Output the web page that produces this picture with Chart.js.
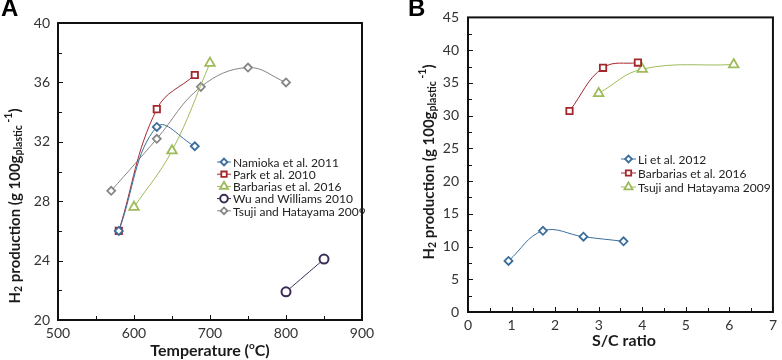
<!DOCTYPE html>
<html><head><meta charset="utf-8">
<script src="https://cdn.jsdelivr.net/npm/chart.js@4"></script>
<style>
body{margin:0;background:#fff;}
#wrap{position:relative;width:782px;height:360px;overflow:hidden;}
.p{position:absolute;top:0;width:391px;height:360px;}
</style>
</head><body>
<div id="wrap">
<div class="p" style="left:0"><canvas id="ca"></canvas></div>
<div class="p" style="left:391px"><canvas id="cb"></canvas></div>
</div>
<script>
// ---------- Panel A data (Temperature, °C vs H2 production) ----------
const namiokaT = [580, 630, 680];
const namiokaH = [26.0, 33.0, 31.7];
const parkT = [580, 630, 680];
const parkH = [26.0, 34.2, 36.5];
const barbariasT = [600, 650, 700];
const barbariasH = [27.6, 31.4, 37.3];
const wuT = [800, 850];
const wuH = [21.9, 24.1];
const tsujiT = [570, 630, 688, 750, 800];
const tsujiH = [28.7, 32.2, 35.7, 37.0, 36.0];
const ticksAx = [500, 600, 700, 800, 900];
const ticksAy = [20, 24, 28, 32, 36, 40];

// ---------- Panel B data (S/C ratio vs H2 production) ----------
const liSC = [0.93, 1.72, 2.65, 3.57];
const liH = [7.8, 12.4, 11.5, 10.8];
const barbSC = [2.33, 3.1, 3.9];
const barbH = [30.7, 37.3, 38.1];
const tsujiSC = [3.0, 4.0, 6.1];
const tsujiBH = [33.4, 37.1, 37.8];
const ticksBx = [0, 1, 2, 3, 4, 5, 6, 7];
const ticksBy = [0, 5, 10, 15, 20, 25, 30, 35, 40, 45];

const FONT = "Lato, 'Open Sans', sans-serif";
const C_BLUE = '#3b6e9b', C_RED = '#a3282c', C_GREEN = '#9dbb5a', C_PURPLE = '#3a2c55', C_GRAY = '#858585';

const pts = (xs, ys) => xs.map((x, i) => ({x, y: ys[i]}));

function ds(label, xs, ys, color, style, radius, bw) {
  return {
    label, data: pts(xs, ys), borderColor: color, backgroundColor: '#fff',
    pointBackgroundColor: '#fff', pointBorderColor: color,
    pointStyle: style, pointRadius: radius, pointBorderWidth: bw || 1.8,
    borderWidth: 1, tension: 0.4, fill: false, pointHoverRadius: radius
  };
}

function drawRich(ctx, segs, cx, cy, rot) {
  ctx.save();
  ctx.translate(cx, cy);
  if (rot) ctx.rotate(rot);
  let total = 0;
  segs.forEach(s => { ctx.font = s.font; s.w = ctx.measureText(s.t).width; total += s.w; });
  let x = -total / 2;
  ctx.textBaseline = 'middle';
  ctx.textAlign = 'left';
  segs.forEach(s => { ctx.font = s.font; ctx.fillStyle = '#1a1a1a'; ctx.fillText(s.t, x, s.dy || 0); x += s.w; });
  ctx.restore();
}

const decor = {
  id: 'decor',
  afterDraw(chart, args, o) {
    const ctx = chart.ctx, a = chart.chartArea;
    const xs = chart.scales.x, ys = chart.scales.y;
    ctx.save();
    // inward ticks
    ctx.strokeStyle = '#111'; ctx.lineWidth = 1;
    for (let v = xs.min; v <= xs.max + 1e-9; v += o.xMinor) {
      const px = Math.round(xs.getPixelForValue(v)) + 0.5;
      const major = Math.abs(v / o.xMajor - Math.round(v / o.xMajor)) < 1e-6;
      const len = major ? 5 : 4;
      ctx.beginPath(); ctx.moveTo(px, a.bottom); ctx.lineTo(px, a.bottom - len); ctx.stroke();
    }
    for (let v = ys.min; v <= ys.max + 1e-9; v += o.yMinor) {
      const py = Math.round(ys.getPixelForValue(v)) + 0.5;
      const major = Math.abs(v / o.yMajor - Math.round(v / o.yMajor)) < 1e-6;
      const len = major ? 5 : 4;
      ctx.beginPath(); ctx.moveTo(a.left, py); ctx.lineTo(a.left + len, py); ctx.stroke();
    }
    // frame
    ctx.lineWidth = 2; ctx.strokeStyle = '#111';
    ctx.strokeRect(a.left, a.top, a.right - a.left, a.bottom - a.top);
    // panel letter
    ctx.font = "bold 24px 'Liberation Sans', Arial, sans-serif";
    ctx.fillStyle = '#000'; ctx.textBaseline = 'alphabetic'; ctx.textAlign = 'left';
    ctx.fillText(o.letter, o.letterX, o.letterY);
    // axis titles
    const bf = "bold 15px " + FONT, sf = "bold 10.5px " + FONT;
    drawRich(ctx, o.xTitle, o.xTitleX, o.xTitleY, 0);
    drawRich(ctx, [
      {t: 'H', font: bf}, {t: '2', font: sf, dy: 4}, {t: ' production (g 100g', font: bf},
      {t: 'plastic', font: sf, dy: 4}, {t: ' -1', font: sf, dy: -6}, {t: ')', font: bf}
    ], o.yTitleX, o.yTitleY, -Math.PI / 2);
    // legend
    ctx.font = "12px " + FONT;
    chart.data.datasets.forEach((d, i) => {
      const y = o.legY + i * o.legDy;
      const x0 = o.legX, x1 = o.legX + o.legW;
      ctx.strokeStyle = d.borderColor; ctx.lineWidth = 1;
      ctx.beginPath(); ctx.moveTo(x0, y); ctx.lineTo(x1, y); ctx.stroke();
      ctx.fillStyle = '#fff'; ctx.strokeStyle = d.pointBorderColor; ctx.lineWidth = d.pointBorderWidth;
      Chart.helpers.drawPoint(ctx, {pointStyle: d.pointStyle, radius: d.pointRadius * 0.85, rotation: 0, borderWidth: d.pointBorderWidth}, (x0 + x1) / 2, y);
      ctx.fillStyle = '#222'; ctx.textBaseline = 'middle'; ctx.textAlign = 'left';
      ctx.fillText(d.label, x1 + 2, y + 1);
    });
    ctx.restore();
  }
};

function baseScales(xmin, xmax, xstep, ymin, ymax, ystep, yW, xH, yPad) {
  const tf = {family: FONT, size: 14};
  return {
    x: {type: 'linear', min: xmin, max: xmax,
      ticks: {stepSize: xstep, color: '#333', font: tf, padding: 5, maxRotation: 0},
      grid: {display: false, drawTicks: false}, border: {display: false},
      afterFit: s => { s.height = xH; }},
    y: {type: 'linear', min: ymin, max: ymax,
      ticks: {stepSize: ystep, color: '#333', font: tf, padding: yPad},
      grid: {display: false, drawTicks: false}, border: {display: false},
      afterFit: s => { s.width = yW; }}
  };
}

const common = {
  responsive: true, maintainAspectRatio: false, animation: false,
  events: [],
};

new Chart(document.getElementById('ca'), {
  type: 'line',
  data: {datasets: [
    ds('Namioka et al. 2011', namiokaT, namiokaH, C_BLUE, 'rectRot', 4, 1.8),
    ds('Park et al. 2010', parkT, parkH, C_RED, 'rect', 4.5, 1.8),
    ds('Barbarias et al. 2016', barbariasT, barbariasH, C_GREEN, 'triangle', 5.5, 1.8),
    ds('Wu and Williams 2010', wuT, wuH, C_PURPLE, 'circle', 4.5, 2),
    ds('Tsuji and Hatayama 2009', tsujiT, tsujiH, C_GRAY, 'rectRot', 4, 1.8)
  ]},
  options: Object.assign({}, common, {
    layout: {padding: {left: 0, top: 23, right: 29, bottom: 0}},
    scales: baseScales(500, 900, 100, 20, 40, 4, 58, 40, 8),
    plugins: {legend: {display: false}, tooltip: {enabled: false},
      decor: {xMinor: 50, xMajor: 100, yMinor: 2, yMajor: 4, letter: 'A', letterX: 1, letterY: 16,
        xTitle: [{t: 'Temperature (', font: "bold 16px " + FONT}, {t: 'o', font: "bold 10px " + FONT, dy: -5}, {t: 'C)', font: "bold 16px " + FONT}],
        xTitleX: 210, xTitleY: 351, yTitleX: 15, yTitleY: 206,
        legX: 217, legY: 162, legDy: 12.2, legW: 14}}
  }),
  plugins: [decor]
});

new Chart(document.getElementById('cb'), {
  type: 'line',
  data: {datasets: [
    ds('Li et al. 2012', liSC, liH, C_BLUE, 'rectRot', 4, 1.8),
    ds('Barbarias et al. 2016', barbSC, barbH, C_RED, 'rect', 4.5, 1.8),
    ds('Tsuji and Hatayama 2009', tsujiSC, tsujiBH, C_GREEN, 'triangle', 5.5, 1.8)
  ]},
  options: Object.assign({}, common, {
    layout: {padding: {left: 0, top: 16, right: 4, bottom: 0}},
    scales: baseScales(0, 7, 1, 0, 45, 5, 77, 48, 9),
    plugins: {legend: {display: false}, tooltip: {enabled: false},
      decor: {xMinor: 0.5, xMajor: 1, yMinor: 2.5, yMajor: 5, letter: 'B', letterX: 17, letterY: 16,
        xTitle: [{t: 'S/C ratio', font: "bold 16px " + FONT}],
        xTitleX: 233, xTitleY: 341, yTitleX: 38, yTitleY: 162,
        legX: 230, legY: 159, legDy: 14, legW: 15}}
  }),
  plugins: [decor]
});
</script>
</body></html>
